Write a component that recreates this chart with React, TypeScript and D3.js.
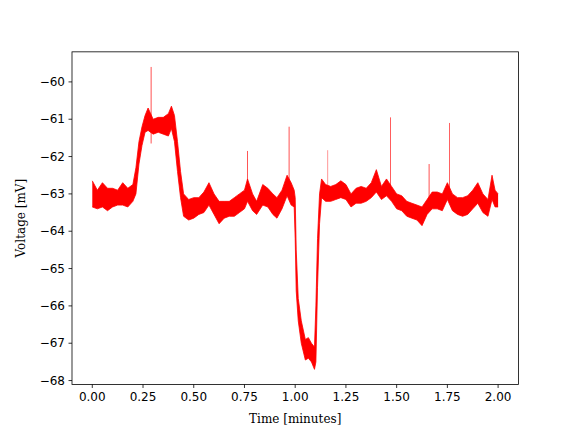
import React from "react";
import * as d3 from "d3";

// Trace envelope (time in minutes, voltage in mV)
const times = [
  0.0, 0.025, 0.05, 0.075, 0.1, 0.125, 0.15, 0.175, 0.2, 0.215, 0.23, 0.245, 0.26, 0.275,
  0.3, 0.325, 0.35, 0.375, 0.39, 0.405, 0.42, 0.435, 0.45, 0.475, 0.5, 0.525, 0.55, 0.575,
  0.6, 0.625, 0.65, 0.675, 0.7, 0.725, 0.75, 0.765, 0.79, 0.81, 0.84, 0.865, 0.89, 0.91,
  0.935, 0.96, 0.98, 0.995, 1.0, 1.005, 1.015, 1.03, 1.05, 1.065, 1.08, 1.095, 1.102,
  1.11, 1.12, 1.13, 1.15, 1.175, 1.2, 1.225, 1.25, 1.275, 1.3, 1.325, 1.35, 1.375, 1.4,
  1.425, 1.45, 1.475, 1.5, 1.525, 1.55, 1.575, 1.6, 1.625, 1.65, 1.675, 1.7, 1.725, 1.75,
  1.775, 1.8, 1.825, 1.85, 1.875, 1.9, 1.925, 1.95, 1.97, 1.985, 2.0,
];
const upper = [
  -62.65, -62.9, -62.7, -62.85, -62.85, -62.9, -62.7, -62.85, -62.75, -62.3, -61.6, -61.2, -60.9, -60.7,
  -61.0, -60.95, -60.95, -60.85, -60.65, -60.9, -61.6, -62.4, -63.0, -63.15, -63.1, -63.1, -62.95, -62.7,
  -63.0, -63.2, -63.2, -63.2, -63.1, -63.0, -62.9, -62.6, -63.0, -63.2, -62.75, -62.85, -63.0, -63.1,
  -62.9, -62.5, -62.7, -62.9, -63.1, -64.5, -65.8, -66.4, -66.9, -66.85, -67.0, -67.1, -66.0,
  -64.2, -63.0, -62.6, -62.75, -62.8, -62.75, -62.65, -62.75, -63.0, -62.85, -62.8, -62.85, -62.7, -62.35,
  -62.8, -62.6, -62.8, -63.0, -63.05, -63.2, -63.25, -63.3, -63.35, -63.15, -62.95, -62.95, -63.0, -62.7,
  -63.0, -63.1, -63.1, -63.05, -62.9, -62.7, -63.0, -63.15, -62.5, -62.9, -63.0,
];
const lower = [
  -63.35, -63.4, -63.35, -63.45, -63.35, -63.3, -63.3, -63.35, -63.2, -63.0, -62.2, -61.7, -61.35, -61.3,
  -61.4, -61.35, -61.4, -61.45, -61.25, -61.6, -62.4, -63.1, -63.6, -63.7, -63.65, -63.55, -63.5, -63.3,
  -63.55, -63.8, -63.65, -63.6, -63.6, -63.5, -63.4, -63.2, -63.45, -63.55, -63.3, -63.35, -63.55, -63.65,
  -63.4, -63.05, -63.3, -63.35, -64.2, -65.6, -66.4, -67.0, -67.45, -67.4, -67.5, -67.7, -67.5,
  -65.5, -63.8, -63.1, -63.2, -63.2, -63.15, -63.1, -63.15, -63.35, -63.25, -63.25, -63.2, -63.1, -62.95,
  -63.15, -63.05, -63.2, -63.4, -63.45, -63.6, -63.65, -63.7, -63.85, -63.55, -63.4, -63.4, -63.45, -63.15,
  -63.45, -63.55, -63.6, -63.55, -63.4, -63.25, -63.5, -63.6, -63.15, -63.35, -63.35,
];

// Narrow spikes
const spikeTimes = [0.29, 0.765, 0.97, 1.16, 1.47, 1.66, 1.76];
const spikeTops = [-59.6, -61.85, -61.2, -61.83, -60.95, -62.2, -61.1];
const spikeBottoms = [-61.65, -63.0, -62.9, -63.0, -63.0, -63.2, -62.9];

const xTicks = [0, 0.25, 0.5, 0.75, 1.0, 1.25, 1.5, 1.75, 2.0];
const yTicks = [-60, -61, -62, -63, -64, -65, -66, -67, -68];

const W = 576;
const H = 432;
const L = 72;
const R = 518.4;
const T = 51.84;
const B = 384.48;

export default function App() {
  const tMin = d3.min(times)!;
  const tMax = d3.max(times)!;
  const tPad = (tMax - tMin) * 0.05;
  const vMin = Math.min(d3.min(lower)!, d3.min(spikeBottoms)!);
  const vMax = Math.max(d3.max(upper)!, d3.max(spikeTops)!);
  const vPad = (vMax - vMin) * 0.05;

  const x = d3.scaleLinear().domain([tMin - tPad, tMax + tPad]).range([L, R]);
  const y = d3.scaleLinear().domain([vMin - vPad, vMax + vPad]).range([B, T]);

  const rows = times.map((t, i) => ({ t, lo: lower[i], hi: upper[i] }));
  const area = d3
    .area<{ t: number; lo: number; hi: number }>()
    .x((d) => x(d.t))
    .y0((d) => y(d.lo))
    .y1((d) => y(d.hi));
  const hiLine = d3
    .line<{ t: number; lo: number; hi: number }>()
    .x((d) => x(d.t))
    .y((d) => y(d.hi));
  const loLine = d3
    .line<{ t: number; lo: number; hi: number }>()
    .x((d) => x(d.t))
    .y((d) => y(d.lo));

  const red = "#ff0000";
  const tickFont = "DejaVu Sans, sans-serif";
  const labelFont = "DejaVu Serif, serif";
  const fs = 12;

  return (
    <svg
      width={W}
      height={H}
      style={{ position: "absolute", left: 0, top: 0, background: "#fff" }}
    >
      <rect x={0} y={0} width={W} height={H} fill="#fff" />
      <path d={area(rows)!} fill={red} stroke="none" />
      <path d={hiLine(rows)!} fill="none" stroke={red} strokeWidth={0.8} />
      <path d={loLine(rows)!} fill="none" stroke={red} strokeWidth={0.8} />
      {spikeTimes.map((t, i) => (
        <line
          key={i}
          x1={x(t)}
          x2={x(t)}
          y1={y(spikeTops[i])}
          y2={y(spikeBottoms[i])}
          stroke={red}
          strokeWidth={0.8}
          opacity={i === 3 ? 0.5 : 0.85}
        />
      ))}
      {/* frame */}
      <rect x={L} y={T} width={R - L} height={B - T} fill="none" stroke="#000" strokeWidth={0.8} />
      {/* x ticks */}
      {xTicks.map((t) => (
        <g key={t}>
          <line x1={x(t)} x2={x(t)} y1={B} y2={B + 3.5} stroke="#000" strokeWidth={0.8} />
          <text
            x={x(t)}
            y={B + 7}
            dy="0.76em"
            textAnchor="middle"
            fontFamily={tickFont}
            fontSize={fs}
            fill="#000"
          >
            {d3.format(".2f")(t)}
          </text>
        </g>
      ))}
      {/* y ticks */}
      {yTicks.map((v) => (
        <g key={v}>
          <line x1={L - 3.5} x2={L} y1={y(v)} y2={y(v)} stroke="#000" strokeWidth={0.8} />
          <text
            x={L - 7}
            y={y(v)}
            dy="0.35em"
            textAnchor="end"
            fontFamily={tickFont}
            fontSize={fs}
            fill="#000"
          >
            {"\u2212" + Math.abs(v)}
          </text>
        </g>
      ))}
      <text
        x={(L + R) / 2}
        y={422.5}
        textAnchor="middle"
        fontFamily={labelFont}
        fontSize={fs}
        fill="#000"
      >
        Time [minutes]
      </text>
      <text
        transform={`translate(25, ${(T + B) / 2}) rotate(-90)`}
        textAnchor="middle"
        fontFamily={labelFont}
        fontSize={fs}
        fill="#000"
      >
        Voltage [mV]
      </text>
    </svg>
  );
}
